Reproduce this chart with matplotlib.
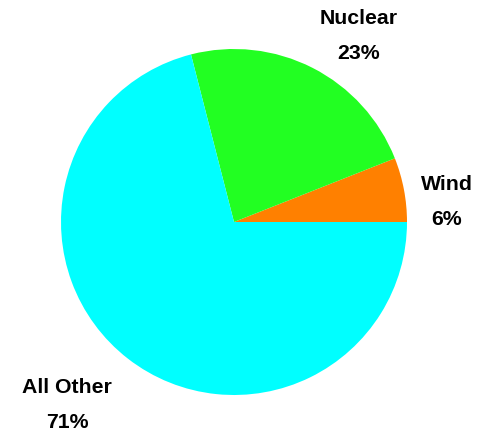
import matplotlib.pyplot as plt

labels = ["Wind", "Nuclear", "All Other"]
shares = [6, 23, 71]
colors = ["#FF8000", "#22FF22", "#00FFFF"]

# label anchor points (name baseline, pixel coords from top-left)
label_px = [(447, 190), (359, 24), (67, 393)]
line_gap = 35

W, H = 479, 432
cx, cy, R = 234, 222, 173

fig = plt.figure(figsize=(W / 100, H / 100), dpi=100)
ax = fig.add_axes([0, 0, 1, 1])
ax.pie(shares, colors=colors, startangle=0, counterclock=True,
       radius=1, wedgeprops=dict(linewidth=0))

def to_data(px, py):
    return (px - cx) / R, (cy - py) / R

for name, val, (px, py) in zip(labels, shares, label_px):
    x, y = to_data(px, py)
    ax.text(x, y, name, ha="center", va="baseline", fontsize=15.3,
            fontweight="bold", family="Liberation Sans")
    x2, y2 = to_data(px, py + line_gap)
    ax.text(x2, y2, f"{val}%", ha="center", va="baseline", fontsize=15.3,
            fontweight="bold", family="Liberation Sans")

ax.set_xlim(-cx / R, (W - cx) / R)
ax.set_ylim((cy - H) / R, cy / R)
ax.set_aspect("equal")
ax.axis("off")

plt.savefig("out.png", dpi=100)
